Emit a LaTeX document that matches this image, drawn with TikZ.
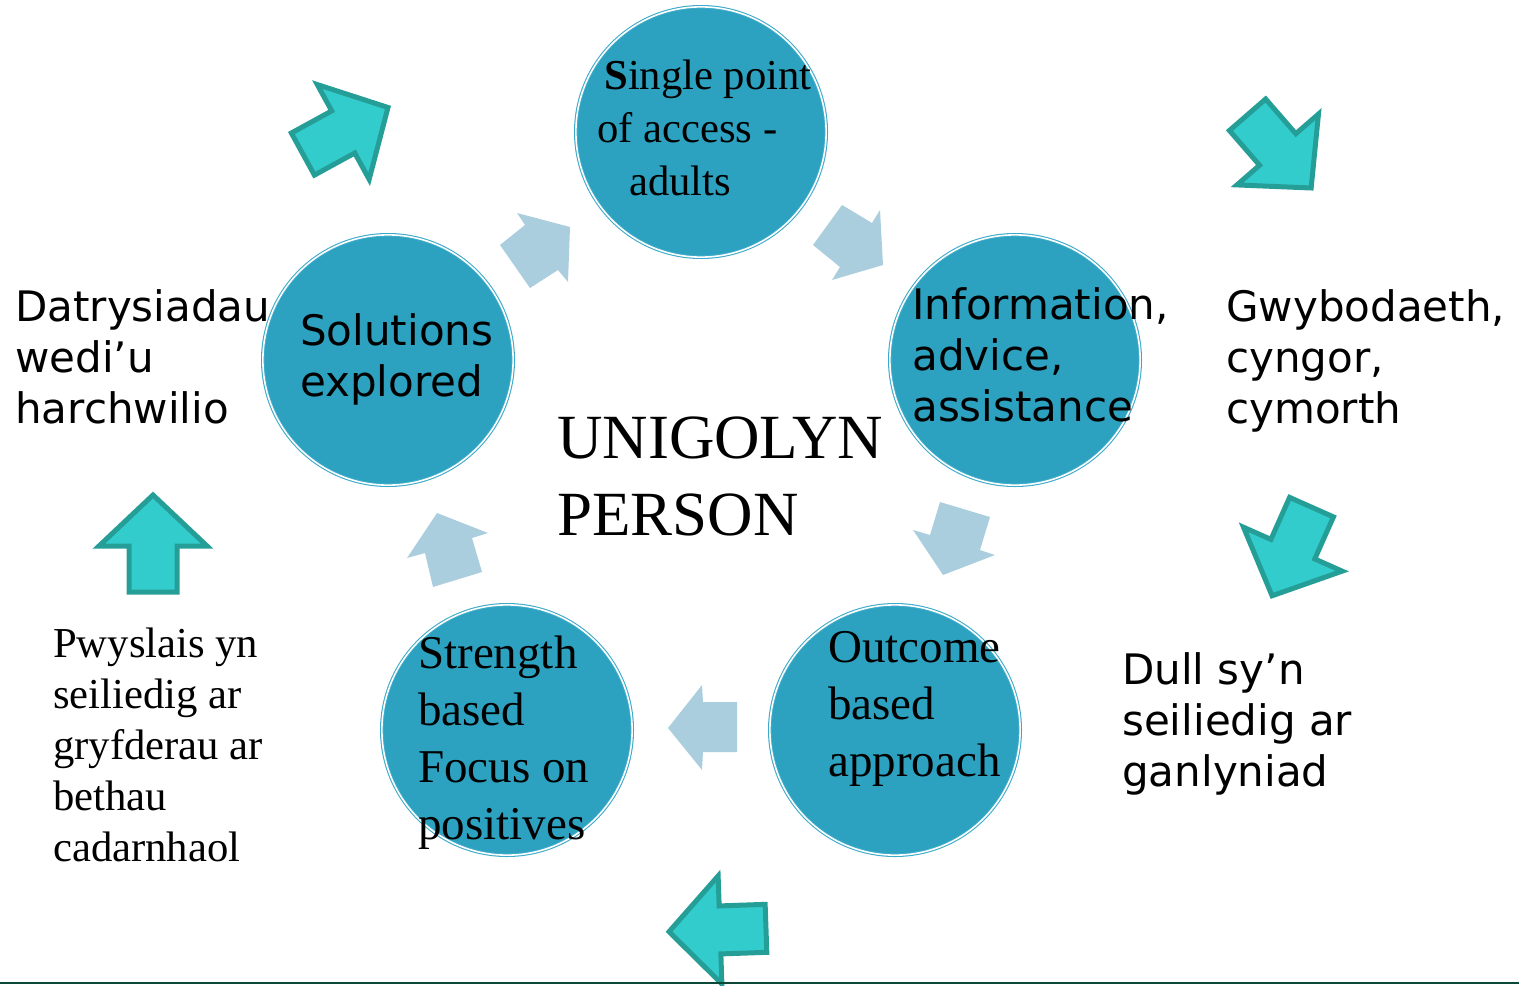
\documentclass[tikz,border=0pt]{standalone}
\usepackage{fontspec}
\setmainfont{Liberation Serif}
\newfontfamily\sansf{DejaVu Sans}
\definecolor{cfill}{RGB}{44,161,192}
\definecolor{cedge}{RGB}{60,170,200}
\definecolor{lightarr}{RGB}{170,206,221}
\definecolor{tealfill}{RGB}{51,204,204}
\definecolor{tealedge}{RGB}{38,158,152}
\definecolor{rulegreen}{RGB}{12,72,56}
\tikzset{
  circ/.style={circle, fill=cfill, draw=cedge, double=white, double distance=1.2pt,
    line width=0.8pt, minimum size=187.7pt, inner sep=0pt},
  txt/.style={anchor=base west, inner sep=0pt, text=black},
  sanstxt/.style={txt, font=\sansf\fontsize{31.5pt}{38.25pt}\selectfont},
  seriftxt/.style={txt, font=\fontsize{32pt}{38.25pt}\selectfont},
  serifmid/.style={txt, font=\fontsize{35.25pt}{42.75pt}\selectfont},
  serifbig/.style={txt, font=\fontsize{47.2pt}{57.75pt}\selectfont},
  lightarrow/.style={fill=lightarr, draw=none},
  blockarr/.pic={
    \draw[fill=tealfill, draw=tealedge, line width=3.75pt, line join=miter]
      (-48,-24) -- (-2,-24) -- (-2,-54) -- (49,0) -- (-2,54) -- (-2,24) -- (-48,24) -- cycle;
  }
}
\begin{document}
\begin{tikzpicture}[x=0.75pt, y=-0.75pt]
\useasboundingbox (0,0) rectangle (1519,985);

% light arrows (inner cycle)
\fill[lightarrow] (500,245) -- (530,288) -- (558,270) -- (568,282) -- (570,227) -- (517,213) -- (525,225) -- cycle;
\fill[lightarrow] (842,205) -- (872,223) -- (880,210) -- (883,265) -- (832,280) -- (840,267) -- (813,245) -- cycle;
\fill[lightarrow] (940,502) -- (990,517) -- (980,550) -- (995,555) -- (943,575) -- (913,530) -- (930,535) -- cycle;
\fill[lightarrow] (437,513) -- (488,533) -- (472,538) -- (482,572) -- (433,587) -- (425,553) -- (407,558) -- cycle;
\fill[lightarrow] (668,728) -- (702,685) -- (703,702) -- (737,702) -- (737,752) -- (703,752) -- (702,770) -- cycle;

% teal arrows (outer cycle)
\pic[rotate=28.7] at (345,131) {blockarr};
\pic[rotate=-49] at (1279,151) {blockarr};
\pic[rotate=-114] at (1292,551) {blockarr};
\pic[rotate=182] at (718,930) {blockarr};
\pic[rotate=90] at (153,544) {blockarr};

% circles
\node[circ] (ctop) at (701,132) {};
\node[circ] (cright) at (1015,360) {};
\node[circ] (cleft) at (388,360) {};
\node[circ] (cbl) at (507,730) {};
\node[circ] (cbr) at (895,730) {};

% texts
\node[seriftxt, font=\fontsize{32pt}{39.75pt}\selectfont] (tsingle) at (597,89)
  {\begin{tabular}[t]{@{}l@{}}\hspace*{5.25pt}\textbf{S}ingle point\\of access -\\\hspace*{24pt}adults\end{tabular}};
\node[sanstxt] (tinfo) at (912,319)
  {\begin{tabular}[t]{@{}l@{}}Information,\\advice,\\assistance\end{tabular}};
\node[sanstxt] (tsol) at (300,345)
  {\begin{tabular}[t]{@{}l@{}}Solutions\\explored\end{tabular}};
\node[serifmid] (tstr) at (418,668)
  {\begin{tabular}[t]{@{}l@{}}Strength\\based\\Focus on\\positives\end{tabular}};
\node[serifmid] (tout) at (828,662)
  {\begin{tabular}[t]{@{}l@{}}Outcome\\based\\approach\end{tabular}};
\node[serifbig] (tcentre) at (557,458)
  {\begin{tabular}[t]{@{}l@{}}UNIGOLYN\\PERSON\end{tabular}};
\node[sanstxt] (tdat) at (15,321)
  {\begin{tabular}[t]{@{}l@{}}Datrysiadau\\wedi’u\\harchwilio\end{tabular}};
\node[sanstxt] (tgwy) at (1226,321)
  {\begin{tabular}[t]{@{}l@{}}Gwybodaeth,\\cyngor,\\cymorth\end{tabular}};
\node[seriftxt] (tpwy) at (53,657)
  {\begin{tabular}[t]{@{}l@{}}Pwyslais yn\\seiliedig ar\\gryfderau ar\\bethau\\cadarnhaol\end{tabular}};
\node[sanstxt] (tdull) at (1122,684)
  {\begin{tabular}[t]{@{}l@{}}Dull sy’n\\seiliedig ar\\ganlyniad\end{tabular}};

% bottom rule
\coordinate (bl) at (0,983);
\coordinate (br) at (1519,983);
\draw[draw=rulegreen, line width=1.9pt] (bl) -- (br);
\end{tikzpicture}
\end{document}
